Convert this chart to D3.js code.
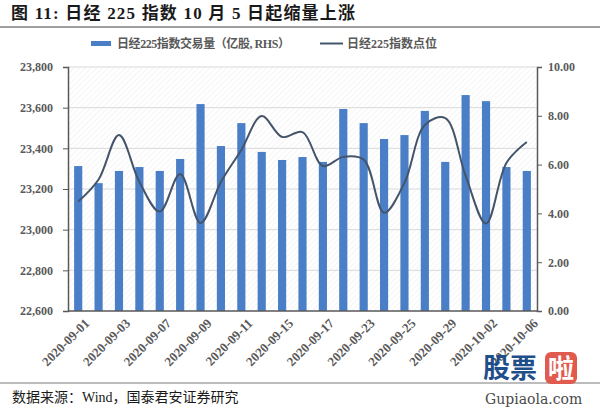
<!DOCTYPE html>
<html><head><meta charset="utf-8">
<script src="https://cdn.jsdelivr.net/npm/d3@7"></script>
<style>
body{margin:0;background:#fff;}
svg{display:block;}
</style></head>
<body>
<svg id="c" width="600" height="411"></svg>
<script>
const dates = ["2020-09-01","2020-09-02","2020-09-03","2020-09-04","2020-09-07","2020-09-08","2020-09-09","2020-09-10","2020-09-11","2020-09-14","2020-09-15","2020-09-16","2020-09-17","2020-09-18","2020-09-23","2020-09-24","2020-09-25","2020-09-28","2020-09-29","2020-09-30","2020-10-02","2020-10-05","2020-10-06"];
const volume = [5.94,5.24,5.74,5.90,5.74,6.23,8.48,6.76,7.70,6.52,6.19,6.31,6.11,8.28,7.70,7.05,7.21,8.20,6.11,8.85,8.60,5.90,5.74];
const index = [23138,23247,23465,23235,23089,23274,23033,23235,23392,23559,23456,23480,23313,23358,23345,23083,23230,23515,23549,23265,23030,23328,23431];
const leftTicks = [22600,22800,23000,23200,23400,23600,23800];
const rightTicks = [0,2,4,6,8,10];
const shownLabels = ["2020-09-01","2020-09-03","2020-09-07","2020-09-09","2020-09-11","2020-09-15","2020-09-17","2020-09-23","2020-09-25","2020-09-29","2020-10-02","2020-10-06"];

const svg = d3.select("#c");
const L = 68, R = 537, T = 67, B = 311;
const serif = "'Liberation Serif','Times New Roman','Noto Serif CJK SC','Noto Sans CJK SC',serif";
const cjk = "'Liberation Serif','Noto Sans CJK SC',sans-serif";
const axisCol = "#595959";

// hatch pattern
const defs = svg.append("defs");
const pat = defs.append("pattern").attr("id","hatch").attr("patternUnits","userSpaceOnUse")
  .attr("width",4).attr("height",4).attr("patternTransform","rotate(45)");
pat.append("line").attr("x1",0).attr("y1",0).attr("x2",0).attr("y2",4).attr("stroke","#ececec").attr("stroke-width",1);

// title
svg.append("text").attr("x",11).attr("y",19).attr("font-family",cjk).attr("font-weight","bold")
  .attr("font-size",17).attr("fill","#1a1a1a").attr("textLength",344).attr("lengthAdjust","spacing")
  .text("图 11:  日经 225 指数 10 月 5 日起缩量上涨");
svg.append("line").attr("x1",0).attr("x2",600).attr("y1",27).attr("y2",27).attr("stroke","#7f7f7f").attr("stroke-width",1.5);

// scales
const x = d3.scaleBand().domain(dates).range([L,R]).paddingInner(0.6).paddingOuter(0.3);
const yL = d3.scaleLinear().domain([22600,23800]).range([B,T]);
const yR = d3.scaleLinear().domain([0,10]).range([B,T]);

// plot bg
svg.append("rect").attr("x",L).attr("y",T).attr("width",R-L).attr("height",B-T).attr("fill","url(#hatch)");

// gridlines
svg.append("g").selectAll("line").data(leftTicks.slice(1)).join("line")
  .attr("x1",L).attr("x2",R).attr("y1",d=>yL(d)).attr("y2",d=>yL(d))
  .attr("stroke","#d9d9d9").attr("stroke-width",1);

// bars
svg.append("g").selectAll("rect").data(dates).join("rect")
  .attr("x",d=>x(d)).attr("width",x.bandwidth())
  .attr("y",(d,i)=>yR(volume[i])).attr("height",(d,i)=>B-yR(volume[i]))
  .attr("fill","#4a7ec6");

// line
const line = d3.line().x((d,i)=>x(dates[i])+x.bandwidth()/2).y(d=>yL(d)).curve(d3.curveCatmullRom.alpha(0.5));
svg.append("path").datum(index).attr("d",line).attr("fill","none").attr("stroke","#44546a").attr("stroke-width",2);

// axes
const gl = svg.append("g").attr("transform",`translate(${L},0)`)
  .call(d3.axisLeft(yL).tickValues(leftTicks).tickFormat(d3.format(",")).tickSize(5).tickPadding(10));
const gr = svg.append("g").attr("transform",`translate(${R},0)`)
  .call(d3.axisRight(yR).tickValues(rightTicks).tickFormat(d3.format(".2f")).tickSize(5).tickPadding(6));
const gb = svg.append("g").attr("transform",`translate(0,${B})`)
  .call(d3.axisBottom(x).tickValues(shownLabels).tickSize(0).tickPadding(4));
[gl,gr,gb].forEach(g=>{
  g.selectAll("path").attr("stroke",axisCol).attr("stroke-width",1.5);
  g.selectAll("line").attr("stroke",axisCol);
  g.selectAll("text").attr("fill",axisCol).attr("font-family",serif).attr("font-weight","bold").attr("font-size",12);
});
gb.select("path").attr("d",`M${L},0H${R}`);
gb.selectAll("text").attr("font-size",13).attr("text-anchor","end")
  .attr("transform","translate(6,7) rotate(-45)").attr("dy","0.35em");

// legend
const lg = svg.append("g").attr("font-family",cjk).attr("font-size",12).attr("font-weight","bold").attr("fill","#595959");
lg.append("rect").attr("x",91).attr("y",41).attr("width",20).attr("height",5).attr("fill","#4a7ec6");
lg.append("text").attr("x",117).attr("y",48).attr("textLength",173).attr("lengthAdjust","spacing").text("日经225指数交易量（亿股, RHS）");
lg.append("line").attr("x1",320).attr("x2",343).attr("y1",43.5).attr("y2",43.5).attr("stroke","#44546a").attr("stroke-width",2);
lg.append("text").attr("x",347).attr("y",48).text("日经225指数点位");

// footer
svg.append("line").attr("x1",0).attr("x2",600).attr("y1",383).attr("y2",383).attr("stroke","#a6a6a6").attr("stroke-width",1.5);
svg.append("text").attr("x",12).attr("y",402).attr("font-family",cjk).attr("font-size",14).attr("fill","#1a1a1a")
  .text("数据来源：Wind，国泰君安证券研究");

// watermark
const wm = svg.append("g");
wm.append("text").attr("x",483).attr("y",378).attr("font-family","'Noto Sans CJK SC',sans-serif").attr("font-weight","bold")
  .attr("font-size",27).attr("fill","#1f4f8a").text("股票");
wm.append("rect").attr("x",545).attr("y",352).attr("width",32).attr("height",32).attr("rx",6).attr("fill","#e05a4e");
wm.append("text").attr("x",561).attr("y",378).attr("text-anchor","middle").attr("font-family","'Noto Sans CJK SC',sans-serif")
  .attr("font-weight","bold").attr("font-size",26).attr("fill","#fff").text("啦");
wm.append("text").attr("x",485).attr("y",404).attr("font-family","'DejaVu Serif',serif").attr("font-size",14).attr("fill","#4a4a4a").text("Gupiaola.com");
</script>
</body></html>
